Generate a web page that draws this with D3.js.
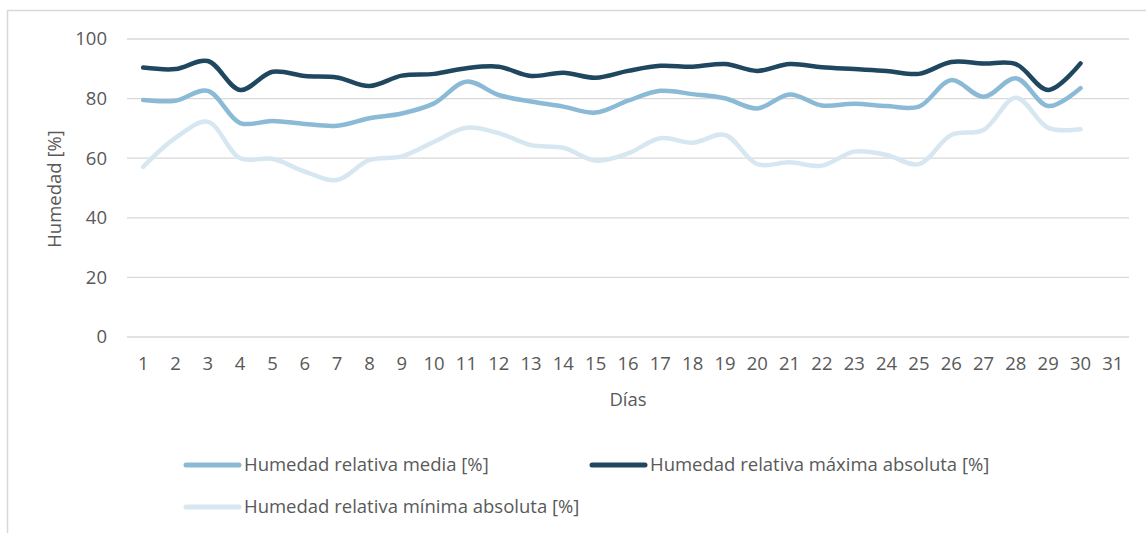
<!DOCTYPE html>
<html>
<head>
<meta charset="utf-8">
<script src="https://cdn.jsdelivr.net/npm/d3@7"></script>
<style>
  body { margin: 0; background: #fff; }
  svg text { font-family: "Open Sans", sans-serif; fill: #595959; }
</style>
</head>
<body>
<svg id="chart" width="1146" height="533"></svg>
<script>
// days on the category axis (31 slots, data for 30)
const dias = d3.range(1, 32).map(String)
const yTicks = [0, 20, 40, 60, 80, 100]

const humMedia = [79.5, 79.3, 82.6, 71.8, 72.5, 71.5, 70.9, 73.4, 75.0, 78.4,
    85.7, 81.2, 79.0, 77.3, 75.3, 79.3, 82.6, 81.5, 80.1, 76.7,
    81.4, 77.7, 78.3, 77.5, 77.3, 86.2, 80.6, 86.8, 77.5, 83.5]
const humMax = [90.4, 89.9, 92.6, 82.9, 89.0, 87.6, 87.1, 84.2, 87.7, 88.3,
    90.2, 90.7, 87.6, 88.7, 87.0, 89.3, 91.0, 90.7, 91.6, 89.3,
    91.6, 90.5, 89.9, 89.3, 88.3, 92.3, 91.8, 91.6, 82.9, 91.8]
const humMin = [57.1, 66.8, 72.2, 60.0, 59.8, 55.5, 52.7, 59.4, 60.6, 65.5,
    70.2, 68.4, 64.4, 63.5, 59.2, 61.6, 66.7, 65.2, 67.8, 58.0,
    58.6, 57.5, 62.2, 61.1, 58.0, 67.8, 69.5, 80.3, 70.2, 69.7]

const series = [
    {name: "Humedad relativa media [%]", values: humMedia, color: "#8bbad6"},
    {name: "Humedad relativa máxima absoluta [%]", values: humMax, color: "#1f4760"},
    {name: "Humedad relativa mínima absoluta [%]", values: humMin, color: "#d6e7f1"}
]

var margin = {top: 39, left: 127},
    width = 1002,
    height = 298
const fs = 18.5

const svg = d3.select("#chart")

// outer frame of the chart area
svg.append("rect")
    .attr("x", 7.5).attr("y", 10.5)
    .attr("width", 1160).attr("height", 540)
    .attr("fill", "none")
    .attr("stroke", "#d9d9d9")
    .attr("stroke-width", 1.5)

const g = svg.append("g")
    .attr("transform", "translate(" + margin.left + "," + margin.top + ")")

var x = d3.scaleBand().domain(dias).range([0, width])
var y = d3.scaleLinear().domain([0, 100]).range([height, 0])

// gridlines
g.selectAll(".grid")
    .data(yTicks)
    .enter().append("line")
    .attr("class", "grid")
    .attr("x1", 0).attr("x2", width)
    .attr("y1", d => y(d)).attr("y2", d => y(d))
    .attr("stroke", "#d9d9d9")
    .attr("stroke-width", 1.3)

// Y axis
const gY = g.append("g")
    .call(d3.axisLeft(y).tickValues(yTicks).tickSize(0).tickPadding(20))
gY.select(".domain").remove()
gY.selectAll("text").attr("font-size", fs).style("fill", "#595959")

// X axis
const gX = g.append("g")
    .attr("transform", "translate(0," + height + ")")
    .call(d3.axisBottom(x).tickSize(0).tickPadding(20))
gX.select(".domain").remove()
gX.selectAll("text").attr("font-size", fs).style("fill", "#595959")

// axis titles
svg.append("text")
    .attr("transform", "translate(55,189) rotate(-90)")
    .attr("text-anchor", "middle")
    .attr("dy", "0.35em")
    .attr("font-size", fs)
    .text("Humedad [%]")

svg.append("text")
    .attr("x", 628).attr("y", 406)
    .attr("text-anchor", "middle")
    .attr("font-size", fs)
    .text("Días")

// smoothed lines
const line = d3.line()
    .x((d, i) => x(dias[i]) + x.bandwidth() / 2)
    .y(d => y(d))
    .curve(d3.curveCatmullRom.alpha(0.5))

g.selectAll(".serie")
    .data(series)
    .enter().append("path")
    .attr("class", "serie")
    .attr("d", d => line(d.values))
    .attr("fill", "none")
    .attr("stroke", d => d.color)
    .attr("stroke-width", 4.5)
    .attr("stroke-linecap", "round")
    .attr("stroke-linejoin", "round")

// legend
const legPos = [[184, 465], [590, 465], [184, 507]]
const leg = svg.selectAll(".leg")
    .data(series)
    .enter().append("g")
    .attr("class", "leg")
    .attr("transform", (d, i) => "translate(" + legPos[i][0] + "," + legPos[i][1] + ")")

leg.append("line")
    .attr("x1", 2).attr("x2", 55)
    .attr("stroke", d => d.color)
    .attr("stroke-width", 5)
    .attr("stroke-linecap", "round")

leg.append("text")
    .attr("x", 60).attr("dy", "0.35em")
    .attr("font-size", fs)
    .text(d => d.name)
</script>
</body>
</html>
